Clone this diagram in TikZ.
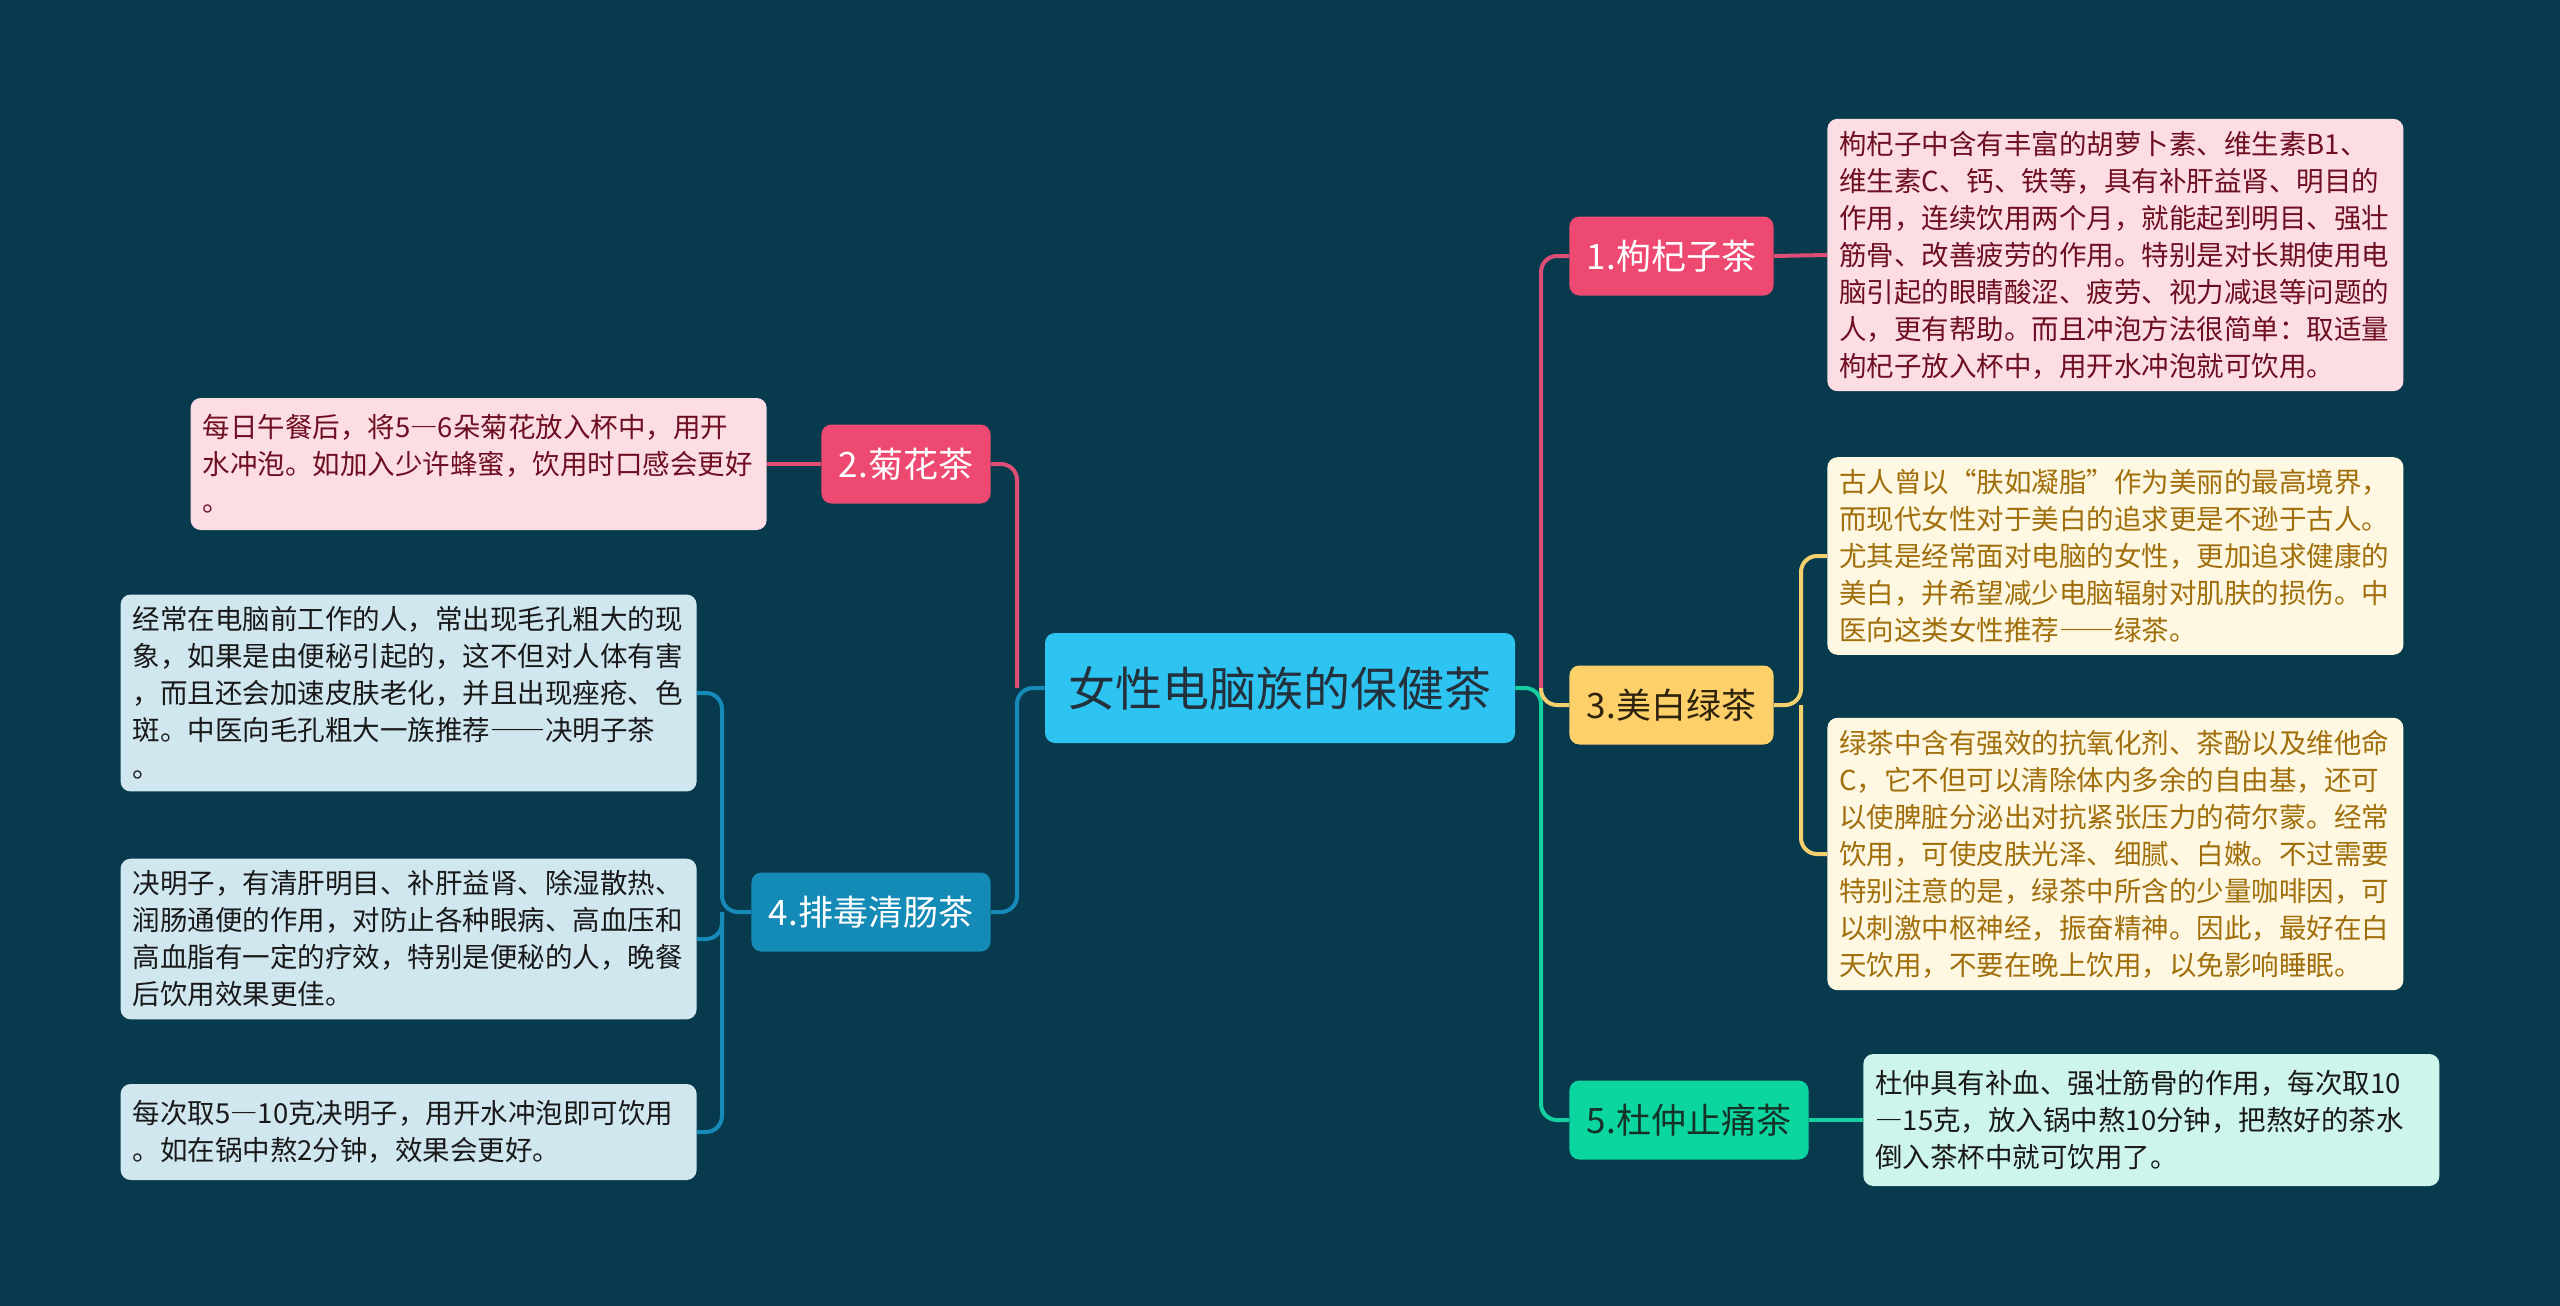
\documentclass[tikz,border=0pt]{standalone}
\usepackage{fontspec}
\setmainfont{Noto Sans CJK SC}
\usepackage{tikz}
\usetikzlibrary{positioning,calc}
\definecolor{tBg}{RGB}{8,58,78}
\definecolor{tRoot}{RGB}{46,196,242}
\definecolor{tRootTxt}{RGB}{35,49,61}
\definecolor{tPink}{RGB}{238,73,113}
\definecolor{tPinkLn}{RGB}{222,78,116}
\definecolor{tPinkBox}{RGB}{252,221,228}
\definecolor{tPinkTxt}{RGB}{110,14,34}
\definecolor{tYel}{RGB}{253,208,106}
\definecolor{tYelLn}{RGB}{245,208,110}
\definecolor{tYelTxt}{RGB}{45,34,12}
\definecolor{tCream}{RGB}{254,247,226}
\definecolor{tCreamTxt}{RGB}{160,110,10}
\definecolor{tGrn}{RGB}{12,214,160}
\definecolor{tGrnLn}{RGB}{20,208,160}
\definecolor{tGrnTxt}{RGB}{20,50,40}
\definecolor{tMint}{RGB}{206,245,236}
\definecolor{tBlue}{RGB}{20,138,182}
\definecolor{tBlueLn}{RGB}{22,138,184}
\definecolor{tLight}{RGB}{208,231,240}
\definecolor{tDark}{RGB}{25,25,25}
\newcommand{\fwdash}{{\addfontfeature{RawFeature=+fwid}—}}
\tikzset{
  root/.style={rectangle, rounded corners=5pt, fill=tRoot, text=tRootTxt,
               minimum width=235pt, minimum height=55pt,
               font=\fontsize{23.5pt}{28pt}\selectfont},
  topic/.style={rectangle, rounded corners=5pt, inner xsep=8.75pt,
                minimum height=39.5pt, font=\fontsize{17.5pt}{21pt}\selectfont},
  note/.style={rectangle, rounded corners=5pt, align=left, text width=276pt,
               inner xsep=6pt, inner ysep=6pt,
               font=\fontsize{13.75pt}{18.5pt}\selectfont},
  link/.style={line width=2pt, rounded corners=8pt},
}

\begin{document}
\begin{tikzpicture}[x=0.5pt, y=-0.5pt]
  \fill[tBg] (0,0) rectangle (2560,1306);

  \node[root] (root) at (1280,688) {女性电脑族的保健茶};

  % right side
  \node[topic, fill=tPink, text=white, anchor=west] (g1) at (1569,256) {1.枸杞子茶};
  \node[topic, fill=tYel, text=tYelTxt, anchor=west] (g3) at (1569,705) {3.美白绿茶};
  \node[topic, fill=tGrn, text=tGrnTxt, anchor=west] (g5) at (1569,1120) {5.杜仲止痛茶};

  \node[note, fill=tPinkBox, text=tPinkTxt, anchor=west] (b1) at (1827,255) {%
    枸杞子中含有丰富的胡萝卜素、维生素B1、\\
    维生素C、钙、铁等，具有补肝益肾、明目的\\
    作用，连续饮用两个月，就能起到明目、强壮\\
    筋骨、改善疲劳的作用。特别是对长期使用电\\
    脑引起的眼睛酸涩、疲劳、视力减退等问题的\\
    人，更有帮助。而且冲泡方法很简单：取适量\\
    枸杞子放入杯中，用开水冲泡就可饮用。};
  \node[note, fill=tCream, text=tCreamTxt, anchor=west] (b3a) at (1827,556) {%
    古人曾以“肤如凝脂”作为美丽的最高境界，\\
    而现代女性对于美白的追求更是不逊于古人。\\
    尤其是经常面对电脑的女性，更加追求健康的\\
    美白，并希望减少电脑辐射对肌肤的损伤。中\\
    医向这类女性推荐\fwdash\fwdash 绿茶。};
  \node[note, fill=tCream, text=tCreamTxt, anchor=west] (b3b) at (1827,854) {%
    绿茶中含有强效的抗氧化剂、茶酚以及维他命\\
    C，它不但可以清除体内多余的自由基，还可\\
    以使脾脏分泌出对抗紧张压力的荷尔蒙。经常\\
    饮用，可使皮肤光泽、细腻、白嫩。不过需要\\
    特别注意的是，绿茶中所含的少量咖啡因，可\\
    以刺激中枢神经，振奋精神。因此，最好在白\\
    天饮用，不要在晚上饮用，以免影响睡眠。};
  \node[note, fill=tMint, text=tDark, minimum height=66pt, right=27pt of g5] (b5) {%
    杜仲具有补血、强壮筋骨的作用，每次取10\\
    \fwdash 15克，放入锅中熬10分钟，把熬好的茶水\\
    倒入茶杯中就可饮用了。};

  % left side
  \node[topic, fill=tPink, text=white, anchor=east] (g2) at (991,464) {2.菊花茶};
  \node[topic, fill=tBlue, text=white, anchor=east] (g4) at (991,912) {4.排毒清肠茶};

  \node[note, fill=tPinkBox, text=tPinkTxt, minimum height=66pt, left=27pt of g2] (b2) {%
    每日午餐后，将5\fwdash 6朵菊花放入杯中，用开\\
    水冲泡。如加入少许蜂蜜，饮用时口感会更好\\
    。};
  \node[note, fill=tLight, text=tDark, anchor=east] (b4a) at (697,693) {%
    经常在电脑前工作的人，常出现毛孔粗大的现\\
    象，如果是由便秘引起的，这不但对人体有害\\
    ，而且还会加速皮肤老化，并且出现痤疮、色\\
    斑。中医向毛孔粗大一族推荐\fwdash\fwdash 决明子茶\\
    。};
  \node[note, fill=tLight, text=tDark, anchor=east] (b4b) at (697,939) {%
    决明子，有清肝明目、补肝益肾、除湿散热、\\
    润肠通便的作用，对防止各种眼病、高血压和\\
    高血脂有一定的疗效，特别是便秘的人，晚餐\\
    后饮用效果更佳。};
  \node[note, fill=tLight, text=tDark, minimum height=48pt, anchor=east] (b4c) at (697,1132) {%
    每次取5\fwdash 10克决明子，用开水冲泡即可饮用\\
    。如在锅中熬2分钟，效果会更好。};

  % junctions
  \coordinate (rj) at (1541,688);
  \coordinate (lj) at (1017,688);
  \coordinate (j3) at (1801,705);
  \coordinate (j4) at (722,912);

  % branches
  \draw[link, tPinkLn] (rj) |- (g1.west);
  \draw[link, tGrnLn] (root.east) -- (rj) |- (g5.west);
  \draw[link, tYelLn] (rj) |- (g3.west);
  \draw[link, tPinkLn] (lj) |- (g2.east);
  \draw[link, tBlueLn] (root.west) -- (lj) |- (g4.east);

  % leaves
  \draw[link, tPinkLn] (g1.east) -- (b1.west);
  \draw[link, tYelLn] (g3.east) -- (j3) |- (b3a.west);
  \draw[link, tYelLn] (j3) |- (b3b.west);
  \draw[link, tGrnLn] (g5.east) -- (b5.west);
  \draw[link, tPinkLn] (g2.west) -- (b2.east);
  \draw[link, tBlueLn] (g4.west) -- (j4) |- (b4a.east);
  \draw[link, tBlueLn] (j4) |- (b4b.east);
  \draw[link, tBlueLn] (j4) |- (b4c.east);
\end{tikzpicture}
\end{document}
